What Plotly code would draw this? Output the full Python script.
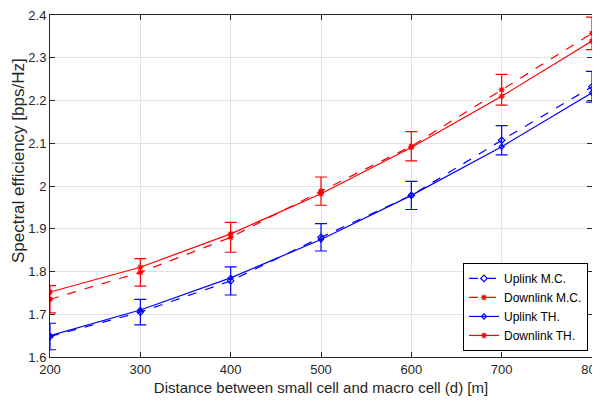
import plotly.graph_objects as go

distance = [200, 300, 400, 500, 600, 700, 800]
uplink_mc = [1.648, 1.705, 1.778, 1.880, 1.978, 2.107, 2.232]
uplink_mc_err = [0.031, 0.030, 0.033, 0.032, 0.033, 0.034, 0.036]
downlink_mc = [1.735, 1.798, 1.880, 1.988, 2.093, 2.225, 2.357]
downlink_mc_err = [0.032, 0.032, 0.035, 0.033, 0.034, 0.036, 0.038]
uplink_th = [1.650, 1.710, 1.785, 1.875, 1.978, 2.092, 2.218]
downlink_th = [1.752, 1.810, 1.888, 1.982, 2.090, 2.210, 2.339]

BLUE = "#0000ff"
RED = "#ff0000"

fig = go.Figure()
fig.add_trace(go.Scatter(
    x=distance, y=uplink_mc, name="Uplink M.C.", mode="lines+markers",
    line=dict(color=BLUE, width=1.2, dash="dash"),
    marker=dict(symbol="diamond-open", size=5, color=BLUE, line=dict(width=1.2)),
    error_y=dict(type="data", array=uplink_mc_err, color=BLUE, thickness=1.2, width=6),
))
fig.add_trace(go.Scatter(
    x=distance, y=downlink_mc, name="Downlink M.C.", mode="lines+markers",
    line=dict(color=RED, width=1.2, dash="dash"),
    marker=dict(symbol="asterisk-open", size=5, color=RED, line=dict(width=1.2, color=RED)),
    error_y=dict(type="data", array=downlink_mc_err, color=RED, thickness=1.2, width=6),
))
fig.add_trace(go.Scatter(
    x=distance, y=uplink_th, name="Uplink TH.", mode="lines+markers",
    line=dict(color=BLUE, width=1.2),
    marker=dict(symbol="diamond-open", size=4, color=BLUE, line=dict(width=1.2)),
))
fig.add_trace(go.Scatter(
    x=distance, y=downlink_th, name="Downlink TH.", mode="lines+markers",
    line=dict(color=RED, width=1.2),
    marker=dict(symbol="asterisk-open", size=5, color=RED, line=dict(width=1.2, color=RED)),
))

axis_common = dict(
    showgrid=True, gridcolor="#e3e3e3", gridwidth=1,
    showline=True, linecolor="#262626", linewidth=1, mirror="ticks",
    ticks="inside", ticklen=5, tickcolor="#262626",
    tickfont=dict(family="Liberation Sans, Arial", size=13, color="#262626"),
    zeroline=False, automargin=False, ticklabeloverflow="allow",
)

# page body has an 8px margin, so the figure is sized/margined to compensate
fig.update_layout(
    width=592, height=401,
    margin=dict(l=42, r=8, t=7, b=52),
    paper_bgcolor="white", plot_bgcolor="white",
    font=dict(family="Liberation Sans, Arial", color="#262626"),
    showlegend=True,
    legend=dict(
        x=0.9926, y=0.275, xanchor="right", yanchor="top",
        bordercolor="#000000", borderwidth=1, bgcolor="white",
        font=dict(size=12, color="#000000"),
        tracegroupgap=0, itemwidth=30,
    ),
    xaxis=dict(
        range=[200, 800], tickvals=[200, 300, 400, 500, 600, 700, 800],
        title=dict(text="Distance between small cell and macro cell (d) [m]",
                   font=dict(size=15, color="#262626"), standoff=6),
        **axis_common,
    ),
    yaxis=dict(
        range=[1.6, 2.4], tickvals=[1.6, 1.7, 1.8, 1.9, 2.0, 2.1, 2.2, 2.3, 2.4],
        ticktext=["1.6", "1.7", "1.8", "1.9", "2", "2.1", "2.2", "2.3", "2.4"],
        **axis_common,
    ),
    annotations=[dict(
        text="Spectral efficiency [bps/Hz]", textangle=-90,
        xref="paper", yref="paper", x=0, y=0.573, xshift=-32,
        xanchor="center", yanchor="middle", showarrow=False,
        font=dict(size=17, color="#262626"),
    )],
)

fig.write_html("out.html")
